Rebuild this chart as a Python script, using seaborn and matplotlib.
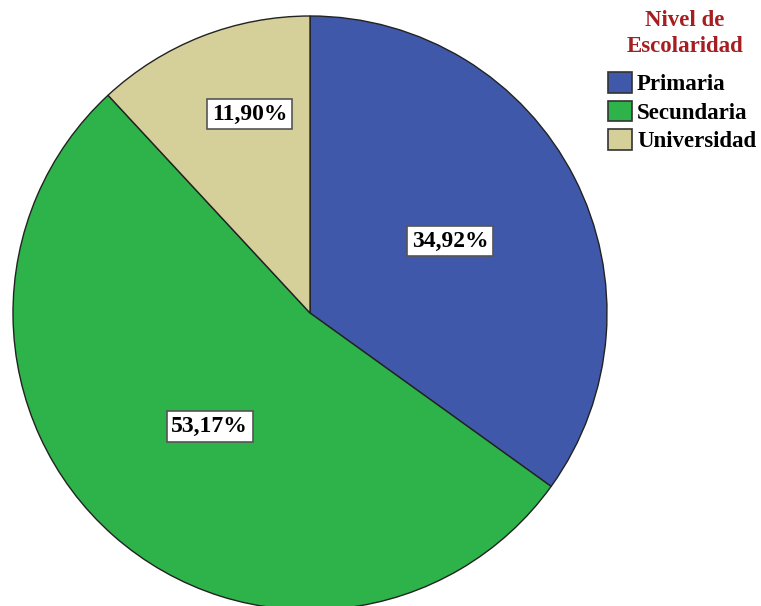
import numpy as np
import matplotlib
matplotlib.use("Agg")
import matplotlib.pyplot as plt
import seaborn as sns
from matplotlib.patches import Patch

# Distribution by education level
categories = ["Primaria", "Secundaria", "Universidad"]
percentages = [34.92, 53.17, 11.90]
legend_title = ["Nivel de", "Escolaridad"]

colors = ["#3F58AA", "#2DB34A", "#D5CF99"]
# radial fraction and angular shift (degrees) for each value label
label_radius = [0.53, 0.51, 0.70]
label_shift = [0.0, 0.0, -4.5]

sns.set_theme(style="white")
plt.rcParams["font.family"] = ["Liberation Serif", "DejaVu Serif"]

W, H = 761, 606
fig = plt.figure(figsize=(W / 100, H / 100), dpi=100)
ax = fig.add_axes([13 / W, -4 / H, 594 / W, 594 / H])

wedges, _ = ax.pie(
    percentages,
    colors=colors,
    startangle=90,
    counterclock=False,
    radius=1.0,
    wedgeprops=dict(edgecolor="#222222", linewidth=1.0),
)
ax.set_xlim(-1, 1)
ax.set_ylim(-1, 1)
ax.set_aspect("equal")
ax.axis("off")

for w, pct, r, sh in zip(wedges, percentages, label_radius, label_shift):
    ang = np.deg2rad((w.theta1 + w.theta2) / 2 + sh)
    ax.text(
        r * np.cos(ang), r * np.sin(ang),
        f"{pct:.2f}%".replace(".", ","),
        ha="center", va="center", fontsize=17, fontweight="bold", color="black",
        bbox=dict(boxstyle="square,pad=0.2", facecolor="white",
                  edgecolor="#555555", linewidth=1.2),
    )

# Legend title, two centred lines
for line, yc in zip(legend_title, [21, 47]):
    fig.text(685 / W, 1 - yc / H, line, ha="center", va="center",
             fontsize=16.5, fontweight="bold", color="#A51E22")

handles = [Patch(facecolor=c, edgecolor="#333333", linewidth=1.2) for c in colors]
leg = fig.legend(
    handles, categories,
    loc="upper left", bbox_to_anchor=(608 / W, 1 - 72 / H),
    frameon=False,
    prop=dict(family="Liberation Serif", weight="bold", size=16.5),
    labelcolor="black",
    handlelength=1.05, handleheight=1.0, handletextpad=0.22,
    labelspacing=0.24, borderaxespad=0.0, borderpad=0.0,
)

fig.savefig("out.png", dpi=100)
